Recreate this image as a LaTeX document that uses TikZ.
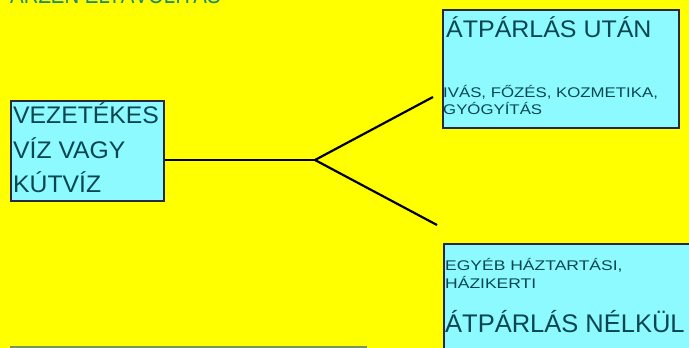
\documentclass[tikz,border=0pt]{standalone}
\usepackage{fontspec}
\setmainfont{Liberation Sans}
\definecolor{bg}{RGB}{255,255,0}
\definecolor{boxfill}{RGB}{140,250,255}
\definecolor{boxline}{RGB}{40,40,70}
\definecolor{txt}{RGB}{10,70,80}
\definecolor{ttl}{RGB}{30,140,110}
\definecolor{edgegreen}{RGB}{120,150,90}
\newcommand{\wide}[2]{\scalebox{#1}[1]{#2}}

\begin{document}
\begin{tikzpicture}[x=1pt,y=-1pt,
    box/.style={draw=boxline, line width=2pt, fill=boxfill, inner sep=0pt, anchor=north west},
    big/.style={font=\fontsize{24}{24}\selectfont, text=txt, anchor=base west, inner sep=0pt},
    small/.style={font=\fontsize{14}{14}\selectfont, text=txt, anchor=base west, inner sep=0pt},
    wire/.style={line width=2.2pt, black}]
    \useasboundingbox (0,0) rectangle (689,348);
    \fill[bg] (0,0) rectangle (689,348);
    \clip (0,0) rectangle (689,348);

    \node[font=\fontsize{24}{24}\selectfont, text=ttl, anchor=base west, inner sep=0pt] (title) at (10,4) {\wide{0.85}{ARZÉN ELTÁVOLÍTÁS}};

    \node[box, minimum width=236pt, minimum height=118pt] (after) at (442,9) {};
    \node[box, minimum width=153pt, minimum height=100pt] (source) at (10,100) {};
    \node[box, minimum width=260pt, minimum height=120pt] (without) at (443,243) {};
    \node[box, draw=edgegreen, minimum width=355pt, minimum height=40pt] (lower) at (10,346) {};

    \node[big] (after1) at (446,37) {\wide{1.04}{ÁTPÁRLÁS UTÁN}};
    \node[small] (after2) at (443,97) {\wide{1.2}{IVÁS, FŐZÉS, KOZMETIKA,}};
    \node[small] (after3) at (443,114) {\wide{1.2}{GYÓGYÍTÁS}};

    \node[big] (source1) at (13,123) {\wide{1.03}{VEZETÉKES}};
    \node[big] (source2) at (13,158) {\wide{1.03}{VÍZ VAGY}};
    \node[big] (source3) at (13,192) {\wide{1.03}{KÚTVÍZ}};

    \node[small] (without1) at (445,270) {\wide{1.25}{EGYÉB HÁZTARTÁSI,}};
    \node[small] (without2) at (445,288) {\wide{1.25}{HÁZIKERTI}};
    \node[big, font=\fontsize{25.5}{25.5}\selectfont] (without3) at (445,332) {ÁTPÁRLÁS NÉLKÜL};

    \coordinate (split) at (315,160);
    \coordinate (upend) at (433,97);
    \coordinate (downend) at (437,225);
    \draw[wire] (source.east |- split) -- (split);
    \draw[wire] (split) -- (upend);
    \draw[wire] (split) -- (downend);
\end{tikzpicture}
\end{document}
